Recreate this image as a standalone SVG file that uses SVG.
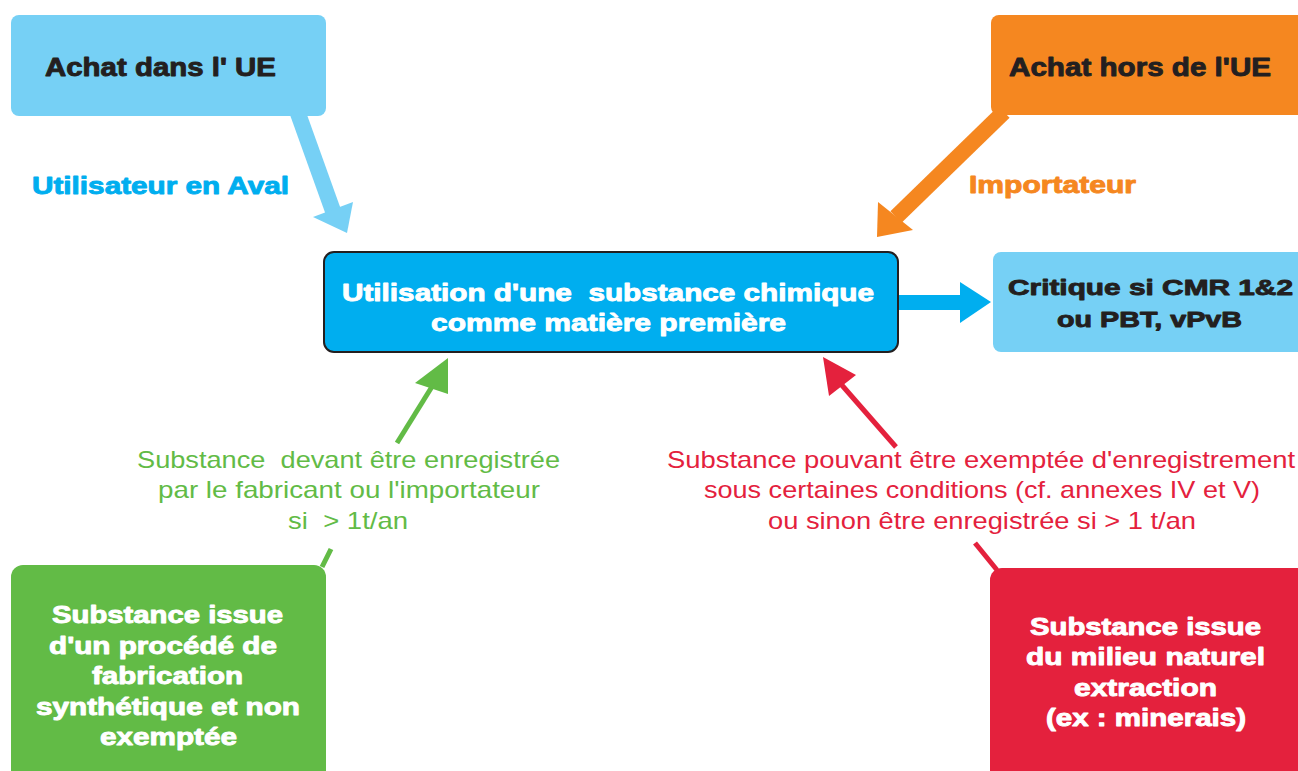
<svg xmlns="http://www.w3.org/2000/svg" width="1298" height="771" viewBox="0 0 1298 771">
  <style>
    text { white-space: pre; }
    .hd { font-family: "Liberation Sans", Arial, sans-serif; font-weight: bold; stroke-width: 0.9; stroke-linejoin: round; }
    .rg { font-family: "Liberation Sans", Arial, sans-serif; font-weight: normal; }
    .dark { fill: #231f20; }
    .hd.dark { stroke: #231f20; }
    .white { fill: #ffffff; }
    .hd.white { stroke: #ffffff; }
    .cyan { fill: #00aeef; }
    .hd.cyan { stroke: #00aeef; }
    .orange { fill: #f58720; }
    .hd.orange { stroke: #f58720; }
    .green { fill: #62bb46; }
    .red { fill: #e4213d; }
    .light { fill: #76d0f5; }
  </style>
  <rect width="1298" height="771" fill="#ffffff"/>

  <!-- connectors -->
  <g id="connectors">
    <!-- Achat dans l'UE -> utilisation -->
    <line x1="297.5" y1="112" x2="333" y2="211" stroke="#76d0f5" stroke-width="16"/>
    <polygon points="313,217 353,202 347,233" fill="#76d0f5"/>
    <!-- Achat hors de l'UE -> utilisation -->
    <line x1="1004" y1="112" x2="896" y2="217" stroke="#f58720" stroke-width="16"/>
    <polygon points="878,202 913,230 877,237" fill="#f58720"/>
    <!-- utilisation -> critique -->
    <rect x="896" y="295" width="66" height="15" fill="#00aeef"/>
    <polygon points="960,282 991,302 960,323" fill="#00aeef"/>
    <!-- synthetic substance -> utilisation -->
    <line x1="397" y1="443" x2="433" y2="385" stroke="#62bb46" stroke-width="5"/>
    <line x1="331" y1="549" x2="322" y2="567" stroke="#62bb46" stroke-width="5"/>
    <polygon points="448,358 415,383 448,394" fill="#62bb46"/>
    <!-- natural substance -> utilisation -->
    <line x1="896" y1="447" x2="840" y2="383" stroke="#e4213d" stroke-width="5"/>
    <line x1="975" y1="543" x2="997" y2="570" stroke="#e4213d" stroke-width="5"/>
    <polygon points="823,357 856,375 829,396" fill="#e4213d"/>
  </g>

  <!-- nodes -->
  <g id="achat-ue">
    <rect x="11" y="15" width="315" height="101" rx="8" class="light"/>
    <text x="45" y="76" font-size="25" class="hd dark" textLength="231" lengthAdjust="spacingAndGlyphs">Achat dans l' UE</text>
  </g>

  <g id="utilisateur-aval-label">
    <text x="32" y="194" font-size="24" class="hd cyan" textLength="257" lengthAdjust="spacingAndGlyphs">Utilisateur en Aval</text>
  </g>

  <g id="achat-hors-ue">
    <rect x="991" y="15" width="330" height="100" rx="8" class="orange"/>
    <text x="1009" y="76" font-size="25" class="hd dark" textLength="262" lengthAdjust="spacingAndGlyphs">Achat hors de l'UE</text>
  </g>

  <g id="importateur-label">
    <text x="969" y="193" font-size="24" class="hd orange" textLength="167" lengthAdjust="spacingAndGlyphs">Importateur</text>
  </g>

  <g id="utilisation">
    <rect x="324" y="252" width="574" height="100" rx="10" fill="#00aeef" stroke="#231f20" stroke-width="2"/>
    <text x="342" y="301" font-size="24" class="hd white" textLength="532" lengthAdjust="spacingAndGlyphs">Utilisation d'une  substance chimique</text>
    <text x="431" y="331" font-size="24" class="hd white" textLength="355" lengthAdjust="spacingAndGlyphs">comme matière première</text>
  </g>

  <g id="critique">
    <rect x="993" y="252" width="330" height="100" rx="8" class="light"/>
    <text x="1008" y="295" font-size="22" class="hd dark" textLength="285" lengthAdjust="spacingAndGlyphs">Critique si CMR 1&amp;2</text>
    <text x="1057" y="327" font-size="22" class="hd dark" textLength="185" lengthAdjust="spacingAndGlyphs">ou PBT, vPvB</text>
  </g>

  <g id="label-enregistree">
    <text x="137" y="468" font-size="24" class="rg green" textLength="423" lengthAdjust="spacingAndGlyphs">Substance  devant être enregistrée</text>
    <text x="158" y="498" font-size="24" class="rg green" textLength="382" lengthAdjust="spacingAndGlyphs">par le fabricant ou l'importateur</text>
    <text x="288" y="529" font-size="24" class="rg green" textLength="120" lengthAdjust="spacingAndGlyphs">si  &gt; 1t/an</text>
  </g>

  <g id="label-exemptee">
    <text x="667" y="468" font-size="24" class="rg red" textLength="628" lengthAdjust="spacingAndGlyphs">Substance pouvant être exemptée d'enregistrement</text>
    <text x="704" y="498" font-size="24" class="rg red" textLength="556" lengthAdjust="spacingAndGlyphs">sous certaines conditions (cf. annexes IV et V)</text>
    <text x="768" y="529" font-size="24" class="rg red" textLength="428" lengthAdjust="spacingAndGlyphs">ou sinon être enregistrée si &gt; 1 t/an</text>
  </g>

  <g id="substance-synthetique">
    <rect x="11" y="565" width="315" height="230" rx="12" class="green"/>
    <text x="52" y="623" font-size="23" class="hd white" textLength="231" lengthAdjust="spacingAndGlyphs">Substance issue</text>
    <text x="49" y="654" font-size="23" class="hd white" textLength="228" lengthAdjust="spacingAndGlyphs">d'un procédé de</text>
    <text x="92" y="684" font-size="23" class="hd white" textLength="151" lengthAdjust="spacingAndGlyphs">fabrication</text>
    <text x="36" y="715" font-size="23" class="hd white" textLength="264" lengthAdjust="spacingAndGlyphs">synthétique et non</text>
    <text x="100" y="745" font-size="23" class="hd white" textLength="137" lengthAdjust="spacingAndGlyphs">exemptée</text>
  </g>

  <g id="substance-naturelle">
    <rect x="990" y="568" width="330" height="230" rx="12" class="red"/>
    <text x="1030" y="635" font-size="23" class="hd white" textLength="231" lengthAdjust="spacingAndGlyphs">Substance issue</text>
    <text x="1026" y="665" font-size="23" class="hd white" textLength="239" lengthAdjust="spacingAndGlyphs">du milieu naturel</text>
    <text x="1074" y="696" font-size="23" class="hd white" textLength="143" lengthAdjust="spacingAndGlyphs">extraction</text>
    <text x="1046" y="726" font-size="23" class="hd white" textLength="200" lengthAdjust="spacingAndGlyphs">(ex : minerais)</text>
  </g>
</svg>
